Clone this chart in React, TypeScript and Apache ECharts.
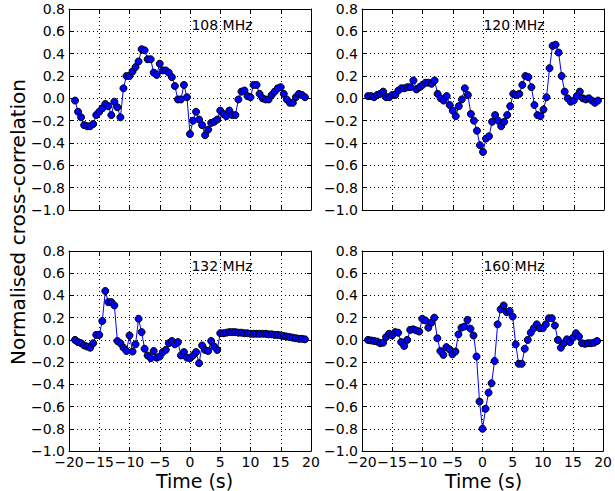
import React, { useEffect, useRef } from "react";
import * as echarts from "echarts";

const times: number[] = Array.from({ length: 77 }, (_, i) => -19 + i * 0.5);

const panelLabels = ["108 MHz", "120 MHz", "132 MHz", "160 MHz"];

const xTicks = [-20, -15, -10, -5, 0, 5, 10, 15, 20];
const yTicks = [-1.0, -0.8, -0.6, -0.4, -0.2, 0.0, 0.2, 0.4, 0.6, 0.8];

const v108 = [
  -0.02, -0.12, -0.17, -0.24, -0.25, -0.25, -0.23, -0.15, -0.12, -0.09,
  -0.05, -0.07, -0.15, -0.03, -0.08, -0.17, 0.09, 0.2, 0.2, 0.24,
  0.28, 0.33, 0.44, 0.43, 0.35, 0.35, 0.23, 0.21, 0.31, 0.25,
  0.25, 0.23, 0.19, 0.11, -0.01, -0.01, 0.12, 0.01, -0.32, -0.2,
  -0.12, -0.19, -0.24, -0.33, -0.28, -0.22, -0.21, -0.19, -0.11, -0.14,
  -0.16, -0.11, -0.15, -0.15, -0.01, 0.06, 0.07, 0.02, 0.01, 0.12,
  0.12, 0.04, 0.0, -0.01, -0.01, 0.03, 0.06, 0.09, 0.1, 0.04,
  -0.01, -0.04, -0.04, 0.01, 0.04, 0.03, 0.01,
];

const v120 = [
  0.02, 0.02, 0.01, 0.03, 0.04, 0.06, 0.01, 0.01, 0.03, 0.03,
  0.07, 0.09, 0.09, 0.1, 0.1, 0.16, 0.08, 0.1, 0.12, 0.14,
  0.14, 0.13, 0.16, 0.04, 0.0, -0.02, 0.02, -0.06, -0.11, -0.16,
  -0.07, -0.01, 0.09, 0.03, -0.14, -0.2, -0.29, -0.42, -0.48, -0.36,
  -0.34, -0.21, -0.15, -0.2, -0.25, -0.21, -0.15, -0.07, 0.04, 0.03,
  0.04, 0.12, 0.2, 0.19, 0.1, -0.06, -0.15, -0.16, -0.1, 0.01,
  0.27, 0.47, 0.48, 0.41, 0.2, 0.06, 0.0, -0.03, -0.02, 0.02,
  0.06, 0.0, -0.01, 0.0, -0.02, -0.04, -0.02,
];

const v132 = [
  0.0, -0.02, -0.03, -0.05, -0.06, -0.07, -0.03, 0.045, 0.045, 0.17,
  0.44, 0.34, 0.34, 0.31, -0.01, -0.03, -0.07, -0.1, 0.04, -0.105,
  -0.04, 0.19, 0.07, -0.08, -0.14, -0.165, -0.1, -0.16, -0.15, -0.11,
  -0.09, -0.03, -0.01, -0.04, -0.02, -0.14, -0.11, -0.16, -0.165,
  -0.14, -0.11, -0.21, -0.05, -0.09, -0.1, -0.01, -0.06, -0.09,
  0.06, 0.06, 0.065, 0.07, 0.07, 0.07, 0.065, 0.065, 0.06, 0.06,
  0.055, 0.055, 0.055, 0.055, 0.055, 0.055, 0.05, 0.05, 0.045, 0.045,
  0.04, 0.035, 0.03, 0.025, 0.02, 0.015, 0.01, 0.01, 0.005,
];

const v160 = [
  0.0, -0.005, -0.01, -0.015, -0.03, -0.025, 0.025, 0.055, 0.04, 0.07,
  0.065, -0.02, -0.055, 0.0, 0.09, 0.095, 0.085, 0.075, 0.19, 0.175,
  0.11, 0.155, 0.2, 0.015, -0.1, -0.135, -0.065, -0.085, -0.13, -0.105,
  0.05, 0.11, 0.12, 0.18, 0.1, 0.04, -0.15, -0.555, -0.8,
  -0.62, -0.475, -0.39, -0.19, 0.14, 0.275, 0.31, 0.25, 0.26, 0.21,
  -0.04, -0.215, -0.215, -0.08, 0.0, 0.065, 0.105, 0.14, 0.105, 0.105,
  0.14, 0.195, 0.195, 0.13, 0.0, -0.07, -0.03, 0.005, -0.02, 0.02,
  0.06, 0.03, -0.03, -0.035, -0.03, -0.03, -0.025, -0.01,
];

const seriesValues = [v108, v120, v132, v160];

const FONT = "DejaVu Sans";

function fmt(v: number, digits: number): string {
  if (Math.abs(v) < 1e-9) return (0).toFixed(digits);
  const s = v.toFixed(digits);
  return s.replace("-", "\u2212");
}

export default function App() {
  const ref = useRef<HTMLDivElement>(null);

  useEffect(() => {
    document.body.style.margin = "0";
    if (!ref.current) return;
    const chart = echarts.init(ref.current, undefined, { renderer: "svg" });

    const grids = [
      { left: 69, top: 9, width: 242, height: 201 },
      { left: 362, top: 9, width: 242, height: 201 },
      { left: 69, top: 251, width: 242, height: 200 },
      { left: 362, top: 251, width: 242, height: 200 },
    ];

    const xAxes: any[] = [];
    const yAxes: any[] = [];
    const series: any[] = [];

    grids.forEach((_, i) => {
      const showXLabels = i >= 2;
      xAxes.push({
        type: "value",
        gridIndex: i,
        min: xTicks[0],
        max: xTicks[xTicks.length - 1],
        interval: 5,
        position: "bottom",
        axisLine: { show: true, onZero: false, lineStyle: { color: "#000", width: 1 } },
        axisTick: { show: true, inside: true, length: 4, lineStyle: { color: "#000" } },
        axisLabel: {
          show: showXLabels,
          margin: 4,
          fontFamily: FONT,
          fontSize: 14,
          lineHeight: 14,
          color: "#000",
          formatter: (v: number) => fmt(v, 0),
        },
        splitLine: { show: true, lineStyle: { color: "#000", width: 1, type: [1, 3] } },
      });
      xAxes.push({
        type: "value",
        gridIndex: i,
        min: xTicks[0],
        max: xTicks[xTicks.length - 1],
        interval: 5,
        position: "top",
        axisLine: { show: true, onZero: false, lineStyle: { color: "#000", width: 1 } },
        axisTick: { show: true, inside: true, length: 4, lineStyle: { color: "#000" } },
        axisLabel: { show: false },
        splitLine: { show: false },
      });
      yAxes.push({
        type: "value",
        gridIndex: i,
        min: yTicks[0],
        max: yTicks[yTicks.length - 1],
        interval: 0.2,
        position: "left",
        axisLine: { show: true, onZero: false, lineStyle: { color: "#000", width: 1 } },
        axisTick: { show: true, inside: true, length: 4, lineStyle: { color: "#000" } },
        axisLabel: {
          show: true,
          margin: 4,
          fontFamily: FONT,
          fontSize: 14,
          lineHeight: 7,
          color: "#000",
          formatter: (v: number) => fmt(v, 1),
        },
        splitLine: { show: true, lineStyle: { color: "#000", width: 1, type: [1, 3] } },
      });
      yAxes.push({
        type: "value",
        gridIndex: i,
        min: yTicks[0],
        max: yTicks[yTicks.length - 1],
        interval: 0.2,
        position: "right",
        axisLine: { show: true, onZero: false, lineStyle: { color: "#000", width: 1 } },
        axisTick: { show: true, inside: true, length: 4, lineStyle: { color: "#000" } },
        axisLabel: { show: false },
        splitLine: { show: false },
      });
      series.push({
        type: "line",
        xAxisIndex: i * 2,
        yAxisIndex: i * 2,
        data: times.map((t, k) => [t, seriesValues[i][k]]),
        symbol: "circle",
        symbolSize: 7,
        showSymbol: true,
        lineStyle: { color: "#0000ff", width: 1 },
        itemStyle: { color: "#0000ff", borderColor: "#000", borderWidth: 1 },
        z: 5,
      });
    });

    const titlePos = [
      { x: 222, y: 25 },
      { x: 514, y: 25 },
      { x: 222, y: 266 },
      { x: 514, y: 266 },
    ];

    const graphics: any[] = panelLabels.map((t, i) => ({
      type: "text",
      x: titlePos[i].x,
      y: titlePos[i].y,
      z: 10,
      style: {
        text: t,
        fontFamily: FONT,
        fontSize: 14,
        fill: "#000",
        align: "center",
        verticalAlign: "middle",
      },
    }));

    const timeTitleX = [194.5, 483.5];
    timeTitleX.forEach((x) => {
      graphics.push({
        type: "text",
        x,
        y: 481,
        style: {
          text: "Time (s)",
          fontFamily: FONT,
          fontSize: 19,
          lineHeight: 18,
          fill: "#000",
          align: "center",
          verticalAlign: "middle",
        },
      });
    });
    graphics.push({
      type: "text",
      x: 18,
      y: 222,
      rotation: Math.PI / 2,
      style: {
        text: "Normalised cross-correlation",
        fontFamily: FONT,
        fontSize: 20,
        fill: "#000",
        align: "center",
        verticalAlign: "middle",
      },
    });

    chart.setOption({
      animation: false,
      backgroundColor: "#fff",
      grid: grids.map((g) => ({ ...g, containLabel: false })),
      xAxis: xAxes,
      yAxis: yAxes,
      series,
      graphic: graphics,
    });

    return () => {
      chart.dispose();
    };
  }, []);

  return <div ref={ref} style={{ width: 615, height: 491 }} />;
}
